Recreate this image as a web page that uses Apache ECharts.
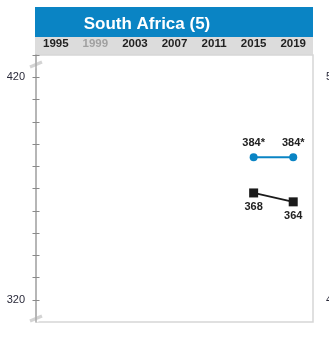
<!DOCTYPE html>
<html>
<head>
<meta charset="utf-8">
<style>
  html, body { margin: 0; padding: 0; background: #fff; overflow: hidden; }
  #chart { width: 329px; height: 341px; }
</style>
<script src="https://cdn.jsdelivr.net/npm/echarts@6/dist/echarts.min.js"></script>
</head>
<body>
<div id="chart"></div>
<script>
// Assessment years shown along the top band
const years = ['1995', '1999', '2003', '2007', '2011', '2015', '2019'];
// Years without data are printed in grey
const yearActive = [true, false, true, true, true, true, true];

// Average scores per cycle
const upperScores = [null, null, null, null, null, 384, 384];
const lowerScores = [null, null, null, null, null, 368, 364];
// Marked with an asterisk when the difference is significant
const upperSignificant = [false, false, false, false, false, true, true];

// Scale labels
const leftTicks = [320, 330, 340, 350, 360, 370, 380, 390, 400, 410, 420, 430];
const leftLabels = [320, 420];
const rightLabels = [400, 500];

const chartTitle = 'South Africa (5)';

const blue = '#0a84c4';
const dark = '#1a1a1a';
const font = 'Liberation Sans, Arial, sans-serif';

const chart = echarts.init(document.getElementById('chart'), null, { renderer: 'canvas' });

// Axis break symbol: white gap with a light grey slanted bar
function breakMark(cx, cy) {
  return {
    type: 'group',
    x: cx, y: cy,
    z: 100,
    children: [
      { type: 'polygon', shape: { points: [[-7, 1], [7, -5], [7, 1], [-7, 7]] }, style: { fill: '#fff' } },
      { type: 'line', shape: { x1: -6, y1: 2.5, x2: 6, y2: -2.5 }, style: { stroke: '#d4d4d4', lineWidth: 3.2 } }
    ]
  };
}

const option = {
  animation: false,
  title: {
    text: chartTitle,
    left: 142, top: 11,
    textAlign: 'center',
    textStyle: { color: '#fff', fontSize: 17, fontWeight: 'bold', fontFamily: font }
  },
  graphic: [
    { type: 'rect', shape: { x: 35, y: 7, width: 278, height: 30 }, style: { fill: blue }, z: -10 },
    { type: 'rect', shape: { x: 35, y: 37, width: 278, height: 18 }, style: { fill: '#dcdcdc' }, z: -10 },
    breakMark(36, 64.5),
    breakMark(36, 318.5)
  ],
  grid: {
    left: 36, right: 16, top: 55, bottom: 19,
    containLabel: false,
    outerBoundsMode: 'none',
    show: true, borderColor: '#d6d6d6', borderWidth: 1.5, backgroundColor: 'transparent'
  },
  xAxis: {
    type: 'category',
    data: years,
    position: 'top',
    boundaryGap: true,
    axisLine: { show: false },
    axisTick: { show: false },
    axisLabel: {
      margin: 5,
      fontSize: 11.5,
      fontWeight: 'bold',
      fontFamily: font,
      color: (v, i) => yearActive[i] ? '#222' : '#a0a0a0'
    }
  },
  yAxis: [
    {
      type: 'value',
      min: 310, max: 430,
      position: 'left',
      splitLine: { show: false },
      axisLine: { show: true, lineStyle: { color: '#a8a8a8', width: 1.5 } },
      axisTick: { show: true, customValues: leftTicks, inside: false, length: 3.5, lineStyle: { color: '#8a8a8a' } },
      axisLabel: {
        customValues: leftLabels,
        margin: 11,
        fontSize: 11,
        color: '#2a2a3a',
        fontFamily: font
      }
    },
    {
      type: 'value',
      min: 390, max: 510,
      position: 'right',
      splitLine: { show: false },
      axisLine: { show: false },
      axisTick: { show: false },
      axisLabel: {
        customValues: rightLabels,
        margin: 13,
        fontSize: 11,
        color: '#2a2a3a',
        fontFamily: font
      }
    },
    {
      // inner half of the crossing ticks on the left scale
      type: 'value',
      min: 310, max: 430,
      position: 'left',
      splitLine: { show: false },
      axisLine: { show: false },
      axisLabel: { show: false },
      axisTick: { show: true, customValues: leftTicks, inside: true, length: 3.5, lineStyle: { color: '#8a8a8a' } }
    }
  ],
  series: [
    {
      type: 'line',
      data: upperScores,
      yAxisIndex: 0,
      symbol: 'circle',
      symbolSize: 8,
      lineStyle: { color: blue, width: 2 },
      itemStyle: { color: blue },
      label: {
        show: true,
        position: 'top',
        distance: 5,
        fontSize: 11,
        fontWeight: 'bold',
        color: '#222',
        fontFamily: font,
        formatter: p => p.value + (upperSignificant[p.dataIndex] ? '*' : '')
      },
      z: 3
    },
    {
      type: 'line',
      data: lowerScores,
      yAxisIndex: 0,
      symbol: 'rect',
      symbolSize: 9,
      lineStyle: { color: dark, width: 1.8 },
      itemStyle: { color: dark },
      label: {
        show: true,
        position: 'bottom',
        distance: 4,
        fontSize: 11,
        fontWeight: 'bold',
        color: '#222',
        fontFamily: font
      },
      z: 3
    }
  ]
};

chart.setOption(option);
</script>
</body>
</html>
